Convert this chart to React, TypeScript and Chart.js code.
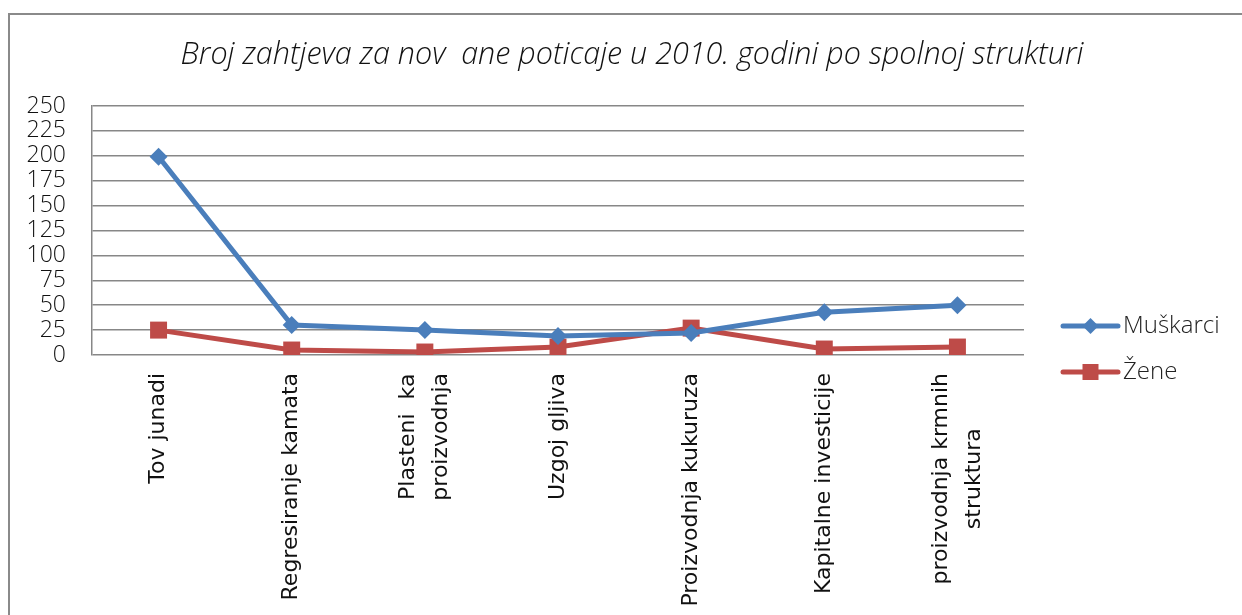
import React, { useEffect, useRef } from "react";
import { Chart, registerables } from "chart.js";

Chart.register(...registerables);

const categories: (string | string[])[] = [
  "Tov junadi",
  "Regresiranje kamata",
  ["Plasteni  ka", "proizvodnja"],
  "Uzgoj gljiva",
  "Proizvodnja kukuruza",
  "Kapitalne investicije",
  ["proizvodnja krmnih", "struktura"],
];
const muskarci = [199, 30, 25, 19, 22, 43, 50];
const zene = [25, 5, 3, 8, 27, 6, 8];
const titleText = "Broj zahtjeva za nov  ane poticaje u 2010. godini po spolnoj strukturi";
const seriesNames = ["Muškarci", "Žene"];

const BLUE = "#4A7EBB";
const RED = "#BE4B48";

const decorPlugin = {
  id: "decor",
  afterDraw(chart: any) {
    const { ctx, chartArea, width } = chart;
    ctx.save();
    // title
    ctx.fillStyle = "#111";
    ctx.font = "italic 300 30.5px 'Open Sans'";
    ctx.textAlign = "center";
    ctx.textBaseline = "middle";
    ctx.fillText(titleText, width / 2 + 6, 40);

    // x category labels (rotated, lines centred)
    const xScale = chart.scales.x;
    ctx.font = "22px 'DejaVu Sans ExtraLight', 'DejaVu Sans'";
    ctx.fillStyle = "#111";
    const gap = 33;
    categories.forEach((cat, i) => {
      const lines = Array.isArray(cat) ? cat : [cat];
      const x = xScale.getPixelForValue(i);
      const widths = lines.map((l) => ctx.measureText(l).width);
      const maxW = Math.max(...widths);
      const top = chartArea.bottom + 18;
      lines.forEach((l, j) => {
        const lx = x + (j - (lines.length - 1) / 2) * gap;
        const cy = top + maxW / 2;
        ctx.save();
        ctx.translate(lx, cy);
        ctx.rotate(-Math.PI / 2);
        ctx.textAlign = "center";
        ctx.textBaseline = "middle";
        ctx.fillText(l, 0, 0);
        ctx.restore();
      });
    });

    // legend
    const x0 = chartArea.right + 39;
    const items = [
      { y: chartArea.bottom - 29, color: BLUE, style: "diamond", label: seriesNames[0] },
      { y: chartArea.bottom + 17, color: RED, style: "square", label: seriesNames[1] },
    ];
    items.forEach((it) => {
      ctx.strokeStyle = it.color;
      ctx.lineWidth = 5;
      ctx.lineCap = "round";
      ctx.beginPath();
      ctx.moveTo(x0, it.y);
      ctx.lineTo(x0 + 55, it.y);
      ctx.stroke();
      ctx.fillStyle = it.color;
      const cx = x0 + 27.5;
      ctx.beginPath();
      if (it.style === "diamond") {
        ctx.moveTo(cx, it.y - 8);
        ctx.lineTo(cx + 8, it.y);
        ctx.lineTo(cx, it.y + 8);
        ctx.lineTo(cx - 8, it.y);
        ctx.closePath();
      } else {
        ctx.rect(cx - 8, it.y - 8, 16, 16);
      }
      ctx.fill();
      ctx.fillStyle = "#222";
      ctx.font = "300 24px 'Open Sans'";
      ctx.textAlign = "left";
      ctx.textBaseline = "middle";
      ctx.fillText(it.label, x0 + 60, it.y);
    });
    ctx.restore();
  },
};

export default function App() {
  const ref = useRef<HTMLCanvasElement>(null);
  useEffect(() => {
    if (!ref.current) return;
    const chart = new Chart(ref.current, {
      type: "line",
      data: {
        labels: categories,
        datasets: [
          {
            label: seriesNames[0],
            data: muskarci,
            borderColor: BLUE,
            backgroundColor: BLUE,
            borderWidth: 5,
            pointStyle: "rectRot",
            pointRadius: 9,
            pointBorderWidth: 0,
            tension: 0,
          },
          {
            label: seriesNames[1],
            data: zene,
            borderColor: RED,
            backgroundColor: RED,
            borderWidth: 5,
            pointStyle: "rect",
            pointRadius: 12,
            pointBorderWidth: 0,
            tension: 0,
          },
        ],
      },
      plugins: [decorPlugin],
      options: {
        animation: false,
        responsive: true,
        maintainAspectRatio: false,
        layout: { padding: { left: 0, right: 218, top: 91, bottom: 0 } },
        plugins: {
          legend: { display: false },
          tooltip: { enabled: false },
          title: { display: false },
        },
        scales: {
          x: {
            offset: true,
            grid: { display: false, drawTicks: false },
            border: { display: false },
            ticks: { display: false },
            afterFit(scale: any) {
              scale.height = 260;
            },
          },
          y: {
            min: 0,
            max: 250,
            ticks: {
              stepSize: 25,
              autoSkip: false,
              padding: 26,
              color: "#111",
              font: { family: "'Open Sans'", size: 23, weight: "300" },
            },
            grid: { color: "#878787", lineWidth: 1.5, drawTicks: false },
            border: { display: true, color: "#878787", width: 1.5 },
            afterFit(scale: any) {
              scale.width = 82;
            },
          },
        },
      },
    });
    return () => chart.destroy();
  }, []);
  return (
    <>
      <div
        style={{
          position: "absolute",
          left: 8,
          top: 13,
          width: 1240,
          height: 610,
          borderLeft: "2px solid #8a8a8a",
          borderTop: "2px solid #8a8a8a",
        }}
      />
      <div style={{ position: "absolute", left: 10, top: 15, width: 1232, height: 600 }}>
        <canvas ref={ref} />
      </div>
    </>
  );
}
